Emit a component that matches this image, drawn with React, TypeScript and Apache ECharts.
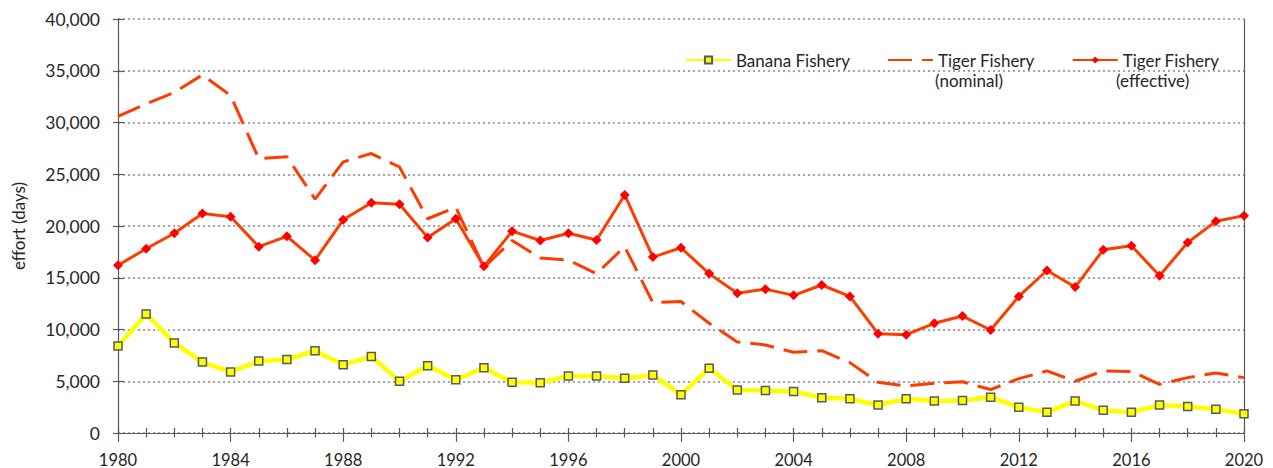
import React, { useEffect, useRef } from "react";
import * as echarts from "echarts";

const years = Array.from({ length: 41 }, (_, i) => 1980 + i);

const banana = [
  8400, 11500, 8700, 6850, 5900, 6950, 7100, 7950, 6600, 7400,
  5000, 6500, 5150, 6300, 4900, 4850, 5500, 5500, 5300, 5600,
  3700, 6250, 4150, 4100, 4000, 3400, 3300, 2700, 3300, 3100,
  3150, 3450, 2500, 2000, 3100, 2200, 2000, 2700, 2550, 2300, 1850,
];

const tigerNominal = [
  30600, 31800, 32900, 34600, 32600, 26500, 26700, 22600, 26200, 27000,
  25700, 20700, 21800, 16000, 18600, 16900, 16700, 15400, 18000, 12600,
  12700, 10600, 8800, 8500, 7800, 7950, 6800, 4900, 4550, 4800,
  4950, 4200, 5250, 6000, 5000, 6000, 5950, 4700, 5350, 5800, 5350,
];

const tigerEffective = [
  16200, 17800, 19300, 21200, 20900, 18000, 19000, 16700, 20600, 22250,
  22100, 18900, 20700, 16100, 19500, 18600, 19300, 18650, 23000, 17000,
  17900, 15400, 13500, 13900, 13300, 14300, 13200, 9600, 9500, 10600,
  11300, 9950, 13200, 15700, 14100, 17700, 18100, 15200, 18400, 20450, 21000,
];

const seriesNames = ["Banana Fishery", "Tiger Fishery (nominal)", "Tiger Fishery (effective)"];
const legendSecondLines = ["(nominal)", "(effective)"];

const FONT = "Lato";
const AXIS = "#595959";
const TEXT = "#262626";

export default function App() {
  const ref = useRef<HTMLDivElement>(null);
  useEffect(() => {
    if (!ref.current) return;
    const chart = echarts.init(ref.current, null, { renderer: "svg" });
    const pair = (arr: number[]) => arr.map((v, i) => [years[i], v]);
    const gridBox = { left: 118, right: 29, top: 19, bottom: 35 };
    chart.setOption({
      animation: false,
      backgroundColor: "#ffffff",
      textStyle: { fontFamily: FONT },
      grid: [gridBox, gridBox],
      legend: {
        left: 685,
        top: 50,
        padding: 0,
        itemWidth: 45,
        itemHeight: 9,
        itemGap: 37,
        data: [
          { name: seriesNames[0] },
          { name: seriesNames[1], itemStyle: { opacity: 0 } },
          { name: seriesNames[2] },
        ],
        formatter: (n: string) => n.replace(/ \(.*\)$/, ""),
        textStyle: {
          fontFamily: FONT,
          fontSize: 17,
          color: TEXT,
          lineHeight: 20,
        },
      },
      graphic: [
        {
          type: "text",
          left: 935,
          top: 72,
          style: { text: legendSecondLines[0], fontFamily: FONT, fontSize: 17, fill: TEXT },
        },
        {
          type: "text",
          left: 1116,
          top: 72,
          style: { text: legendSecondLines[1], fontFamily: FONT, fontSize: 17, fill: TEXT },
        },
      ],
      xAxis: [
        {
          type: "value",
          gridIndex: 0,
          min: 1980,
          max: 2020,
          interval: 4,
          axisLine: { show: true, lineStyle: { color: AXIS, width: 1.2 } },
          axisTick: { show: true, length: 9, lineStyle: { color: AXIS, width: 1.2 } },
          minorTick: { show: true, splitNumber: 4, length: 4.5, lineStyle: { color: AXIS, width: 1.2 } },
          splitLine: { show: false },
          axisLabel: {
            formatter: (v: number) => String(v),
            fontSize: 16.5,
            color: TEXT,
            margin: 18,
            fontFamily: FONT,
          },
        },
        {
          type: "value",
          gridIndex: 1,
          min: 1980,
          max: 2020,
          interval: 4,
          axisLine: { show: false },
          axisTick: { show: true, inside: true, length: 5, lineStyle: { color: AXIS, width: 1.2 } },
          minorTick: { show: true, splitNumber: 4, length: 5, lineStyle: { color: AXIS, width: 1.2 } },
          splitLine: { show: false },
          axisLabel: { show: false },
        },
      ],
      yAxis: [
        {
          type: "value",
          gridIndex: 0,
          position: "left",
          min: 0,
          max: 40000,
          interval: 5000,
          name: "effort (days)",
          nameLocation: "middle",
          nameGap: 91,
          nameTextStyle: { fontSize: 17, color: TEXT, fontFamily: FONT },
          axisLine: { show: true, lineStyle: { color: AXIS, width: 1.2 } },
          axisTick: { show: true, length: 5, lineStyle: { color: AXIS, width: 1.2 } },
          splitLine: { show: true, lineStyle: { color: "#a6a6a6", type: [2, 3], width: 2 } },
          axisLabel: {
            formatter: (v: number) => v.toLocaleString("en-US"),
            fontSize: 17.5,
            color: TEXT,
            margin: 18,
            fontFamily: FONT,
          },
        },
        {
          type: "value",
          gridIndex: 0,
          position: "right",
          min: 0,
          max: 40000,
          interval: 5000,
          axisLine: { show: true, lineStyle: { color: AXIS, width: 1.2 } },
          axisTick: { show: false },
          splitLine: { show: false },
          axisLabel: { show: false },
        },
        {
          type: "value",
          gridIndex: 1,
          position: "left",
          min: 0,
          max: 40000,
          interval: 5000,
          axisLine: { show: false },
          axisTick: { show: true, inside: true, length: 6, lineStyle: { color: AXIS, width: 1.2 } },
          splitLine: { show: false },
          axisLabel: { show: false },
        },
      ],
      series: [
        {
          name: seriesNames[1],
          type: "line",
          xAxisIndex: 0,
          yAxisIndex: 0,
          data: pair(tigerNominal),
          symbol: "none",
          lineStyle: { color: "#ff3c00", width: 3, type: [24, 10] },
          itemStyle: { color: "#ff3c00" },
          z: 3,
        },
        {
          name: seriesNames[2],
          type: "line",
          xAxisIndex: 0,
          yAxisIndex: 0,
          data: pair(tigerEffective),
          symbol: "diamond",
          symbolSize: 10,
          lineStyle: { color: "#ff3c00", width: 3 },
          itemStyle: { color: "#ff0000" },
          z: 4,
        },
        {
          name: seriesNames[0],
          type: "line",
          xAxisIndex: 0,
          yAxisIndex: 0,
          data: pair(banana),
          symbol: "rect",
          symbolSize: 8,
          lineStyle: { color: "#ffff00", width: 4.5 },
          itemStyle: { color: "#ffff00", borderColor: "#595959", borderWidth: 1.5 },
          z: 5,
        },
      ],
    });
    return () => chart.dispose();
  }, []);
  return (
    <div
      ref={ref}
      style={{ position: "fixed", left: 0, top: 0, width: 1273, height: 468 }}
    />
  );
}
